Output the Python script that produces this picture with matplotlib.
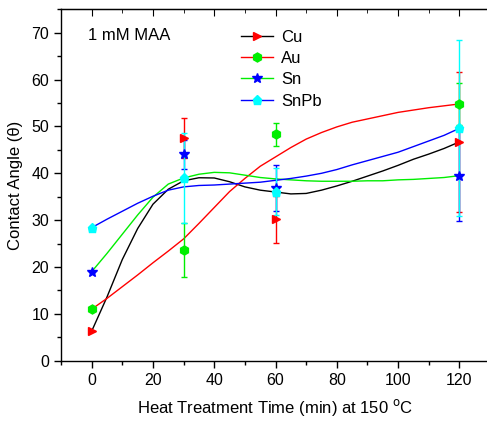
import matplotlib
matplotlib.use("Agg")
import matplotlib.pyplot as plt
from matplotlib.lines import Line2D
from matplotlib.ticker import MultipleLocator

plt.rcParams['font.family'] = ['Liberation Sans', 'DejaVu Sans']

# measured points (min, contact angle) with error bars
t = [0, 30, 60, 120]
cu = [6.3, 47.5, 30.2, 46.7]
cu_err = [0, 4.2, 5.0, 15.0]
au = [11.0, 23.6, 48.3, 54.8]
au_err = [0, 5.8, 2.4, 4.4]
sn = [19.0, 44.1, 36.9, 39.5]
sn_err = [0, 3.1, 4.9, 9.6]
snpb = [28.4, 38.9, 36.1, 49.6]
snpb_err = [0, 9.6, 5.0, 18.8]

# smooth trend curves, every 5 min
t_curve = [0, 5, 10, 15, 20, 25, 30, 35, 40, 45, 50, 55, 60,
           65, 70, 75, 80, 85, 90, 95, 100, 105, 110, 115, 120]
cu_curve = [6.3, 13.6, 21.6, 28.2, 33.4, 36.6, 38.4, 39.05, 39.0, 38.2, 37.1, 36.4, 36.0,
            35.6, 35.7, 36.4, 37.3, 38.3, 39.4, 40.5, 41.7, 43.0, 44.1, 45.3, 46.7]
au_curve = [11.0, 13.3, 15.8, 18.3, 20.9, 23.4, 26.0, 29.3, 32.7, 36.1, 38.9, 41.5, 43.5,
            45.5, 47.3, 48.7, 49.9, 50.9, 51.6, 52.3, 53.0, 53.5, 54.0, 54.4, 54.8]
sn_curve = [19.0, 22.9, 27.0, 31.1, 34.9, 37.7, 39.0, 39.8, 40.2, 40.1, 39.6, 39.1, 38.8,
            38.6, 38.4, 38.3, 38.3, 38.3, 38.4, 38.4, 38.6, 38.7, 38.9, 39.1, 39.5]
snpb_curve = [28.4, 30.2, 31.9, 33.6, 35.1, 36.4, 37.1, 37.4, 37.5, 37.7, 37.9, 38.1, 38.5,
              38.9, 39.4, 40.0, 40.8, 41.8, 42.7, 43.6, 44.5, 45.7, 46.9, 48.1, 49.6]

series = [
    ("Cu", cu, cu_err, cu_curve, 'black', '>', '#ff0000', 6),
    ("Au", au, au_err, au_curve, '#ff0000', 'h', '#00ee00', 6.5),
    ("Sn", sn, sn_err, sn_curve, '#00ee00', '*', '#0000ff', 7.5),
    ("SnPb", snpb, snpb_err, snpb_curve, '#0000ff', 'p', '#00ffff', 6.5),
]

fig = plt.figure(figsize=(4.87, 4.21), dpi=100)
ax = fig.add_axes([0.1253, 0.1432, 0.881, 0.8347])

handles = []
for name, y, err, curve, lc, mk, mc, ms in series:
    ax.plot(t_curve, curve, color=lc, lw=1.0)
    ax.errorbar(t, y, yerr=err, fmt=mk, color=mc, ms=ms, mec=mc, mfc=mc,
                ecolor=mc, elinewidth=1.0, capsize=2.5, capthick=1.0)
    handles.append(Line2D([], [], color=lc, lw=1.0, marker=mk, ms=ms,
                          mfc=mc, mec=mc))

ax.set_xlim(-10, 130)
ax.set_ylim(0, 75)
ax.xaxis.set_major_locator(MultipleLocator(20))
ax.xaxis.set_minor_locator(MultipleLocator(10))
ax.yaxis.set_major_locator(MultipleLocator(10))
ax.yaxis.set_minor_locator(MultipleLocator(5))
ax.tick_params(which='both', direction='out', labelsize=11.5, width=1.0)
ax.tick_params(which='major', length=5)
ax.tick_params(which='minor', length=3)
for s in ax.spines.values():
    s.set_linewidth(1.0)

top = ax.secondary_xaxis('top')
top.xaxis.set_major_locator(MultipleLocator(20))
top.xaxis.set_minor_locator(MultipleLocator(10))
top.tick_params(which='both', direction='in', labeltop=False)
top.tick_params(which='major', length=5)
top.tick_params(which='minor', length=3)

ax.set_xlabel(r"Heat Treatment Time (min) at 150 $^{\mathrm{o}}$C", fontsize=12, labelpad=7)
ax.set_ylabel("Contact Angle (θ)", fontsize=12, labelpad=6)

ax.text(0.063, 0.925, "1 mM MAA", transform=ax.transAxes, fontsize=12,
        ha='left', va='center')

ax.legend(handles, [s[0] for s in series], loc='upper left',
          bbox_to_anchor=(0.385, 0.985), frameon=False, fontsize=12,
          handlelength=1.9, handletextpad=0.5, labelspacing=0.38, numpoints=1)

fig.savefig("out.png", dpi=100)
